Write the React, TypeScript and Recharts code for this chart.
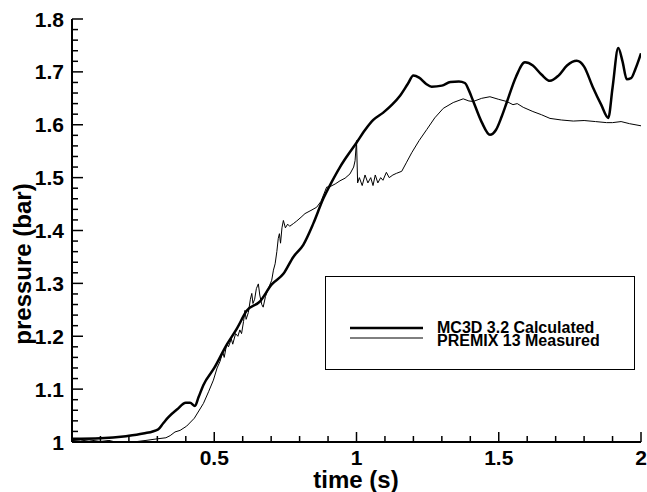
import React from 'react';
import { LineChart, Line, XAxis, YAxis, Legend } from 'recharts';

// MC3D 3.2 calculated pressure (time s, pressure bar)
const calcTime = [
  0, 0.1, 0.19, 0.25, 0.303, 0.32, 0.339, 0.37, 0.4, 0.415, 0.432, 0.445, 0.462, 0.5, 0.544, 0.58,
  0.614, 0.661, 0.702, 0.743, 0.778, 0.813, 0.848, 0.883, 0.913, 0.942, 0.966, 1.0, 1.03, 1.059,
  1.094, 1.125, 1.153, 1.18, 1.2, 1.22, 1.245, 1.264, 1.3, 1.33, 1.36, 1.381, 1.395, 1.41, 1.44,
  1.469, 1.49, 1.51, 1.528, 1.56, 1.592, 1.62, 1.65, 1.68, 1.71, 1.74, 1.774, 1.8, 1.83, 1.86,
  1.885, 1.9, 1.92, 1.935, 1.95, 1.965, 1.98, 2.0,
];
const calcPressure = [
  1.006, 1.007, 1.011, 1.016, 1.024, 1.035, 1.047, 1.062, 1.074, 1.074, 1.068, 1.085, 1.108, 1.14,
  1.184, 1.215, 1.248, 1.266, 1.298, 1.318, 1.35, 1.373, 1.413, 1.46, 1.492, 1.52, 1.54, 1.566,
  1.59, 1.609, 1.623, 1.638, 1.655, 1.677, 1.693, 1.689, 1.677, 1.672, 1.674, 1.681, 1.682, 1.679,
  1.665, 1.645, 1.605, 1.581, 1.59, 1.615, 1.642, 1.69, 1.718, 1.712, 1.695, 1.683, 1.693, 1.712,
  1.721, 1.71, 1.672, 1.638, 1.613, 1.67, 1.745, 1.72, 1.686, 1.688, 1.705, 1.735,
];

// PREMIX 13 measured pressure
const measTime = [
  0, 0.03, 0.06, 0.1, 0.13, 0.16, 0.2, 0.23, 0.26, 0.3, 0.33, 0.345, 0.362, 0.38, 0.403, 0.43,
  0.462, 0.48, 0.497, 0.51, 0.52, 0.53, 0.535, 0.544, 0.55, 0.56, 0.565, 0.575, 0.583, 0.59, 0.596,
  0.603, 0.608, 0.612, 0.62, 0.627, 0.632, 0.636, 0.642, 0.648, 0.655, 0.66, 0.667, 0.672, 0.68,
  0.69, 0.702, 0.708, 0.714, 0.72, 0.725, 0.729, 0.733, 0.738, 0.743, 0.75, 0.758, 0.765, 0.778,
  0.79, 0.805, 0.819, 0.84, 0.86, 0.875, 0.895, 0.907, 0.925, 0.942, 0.96, 0.977, 0.99, 0.995, 1.0,
  1.004, 1.01, 1.02, 1.03, 1.04, 1.05, 1.058, 1.066, 1.075, 1.085, 1.093, 1.105, 1.115, 1.128,
  1.14, 1.159, 1.175, 1.194, 1.22, 1.247, 1.275, 1.305, 1.34, 1.375, 1.395, 1.41, 1.44, 1.469,
  1.5, 1.528, 1.55, 1.565, 1.586, 1.62, 1.65, 1.68, 1.72, 1.762, 1.8, 1.84, 1.879, 1.9, 1.93, 1.96,
  2.0,
];
const measPressure = [
  1.003, 1.002, 1.004, 1.001, 1.003, 0.999, 1.0, 1.001, 1.003, 1.006, 1.008, 1.012, 1.019, 1.022,
  1.03, 1.045, 1.073, 1.095, 1.117, 1.14, 1.152, 1.17, 1.16, 1.186, 1.18, 1.195, 1.185, 1.205, 1.2,
  1.212, 1.205, 1.228, 1.249, 1.232, 1.245, 1.27, 1.281, 1.262, 1.27, 1.29, 1.299, 1.278, 1.26,
  1.255, 1.275, 1.29, 1.306, 1.325, 1.337, 1.36, 1.385, 1.394, 1.376, 1.405, 1.419, 1.405, 1.412,
  1.408, 1.413, 1.418, 1.425, 1.432, 1.438, 1.444, 1.455, 1.482, 1.483, 1.488, 1.494, 1.499, 1.507,
  1.52, 1.532, 1.57, 1.49, 1.5, 1.485, 1.505, 1.49, 1.5, 1.485, 1.505, 1.49, 1.5, 1.495, 1.51, 1.5,
  1.505, 1.508, 1.512, 1.528, 1.547, 1.57, 1.591, 1.613, 1.631, 1.642, 1.649, 1.645, 1.644, 1.65,
  1.653, 1.648, 1.644, 1.638, 1.64, 1.633, 1.625, 1.619, 1.612, 1.609, 1.607, 1.608, 1.606, 1.604,
  1.604, 1.606, 1.602, 1.598,
];

const calcName = 'MC3D 3.2 Calculated';
const measName = 'PREMIX 13 Measured';

// tick positions (minor + major)
const xTicks = Array.from({ length: 21 }, (_, i) => i / 10);
const yTicks = Array.from({ length: 41 }, (_, i) => +(1 + i * 0.02).toFixed(2));

const calcData = calcTime.map((t, i) => ({ t, p: calcPressure[i] }));
const measData = measTime.map((t, i) => ({ t, p: measPressure[i] }));

const FONT = '"Liberation Sans", Arial, sans-serif';

const isStep = (v: number, step: number) => Math.abs(v / step - Math.round(v / step)) < 1e-6;

const XTick = ({ x, y, payload }: any) => {
  const v = payload.value;
  const major = isStep(v, 0.5);
  return (
    <g>
      <line x1={x} x2={x} y1={y} y2={y - (major ? 10 : 6)} stroke="#000" strokeWidth={1.5} />
      {major && v > 0 && (
        <text x={x} y={y + 23} textAnchor="middle" fontFamily={FONT} fontWeight="bold" fontSize={21} fill="#000">
          {String(v)}
        </text>
      )}
    </g>
  );
};

const YTick = ({ x, y, payload }: any) => {
  const v = payload.value;
  const major = isStep(v, 0.1);
  return (
    <g>
      <line x1={x} x2={x + (major ? 11 : 6)} y1={y} y2={y} stroke="#000" strokeWidth={1.5} />
      {major && (
        <text x={x - 8} y={y + 7.5} textAnchor="end" fontFamily={FONT} fontWeight="bold" fontSize={21} fill="#000">
          {v === 1 ? '1' : v.toFixed(1)}
        </text>
      )}
    </g>
  );
};

const YTitle = () => (
  <text x={31} y={264} transform="rotate(-90 31 264)" textAnchor="middle" fontFamily={FONT} fontWeight="bold" fontSize={24} fill="#000">
    pressure (bar)
  </text>
);

const XTitle = () => (
  <text x={356} y={488} textAnchor="middle" fontFamily={FONT} fontWeight="bold" fontSize={24} fill="#000">
    time (s)
  </text>
);

const LegendBox = () => (
  <div style={{ width: 310, height: 94, border: '1px solid #000', boxSizing: 'border-box', background: '#fff' }}>
    <svg width={308} height={92}>
      <line x1={24} x2={97} y1={51} y2={51} stroke="#000" strokeWidth={2.5} />
      <line x1={24} x2={97} y1={61} y2={61} stroke="#000" strokeWidth={1} />
      <text x={111} y={56} fontFamily={FONT} fontWeight="bold" fontSize={16} fill="#000">{calcName}</text>
      <text x={111} y={69} fontFamily={FONT} fontWeight="bold" fontSize={16} fill="#000">{measName}</text>
    </svg>
  </div>
);

export default function App() {
  return (
    <div style={{ position: 'absolute', left: 0, top: 0, fontFamily: FONT, background: '#fff' }}>
      <LineChart width={647} height={492} margin={{ top: 19, right: 6, left: 0, bottom: 0 }}>
        <XAxis
          type="number"
          dataKey="t"
          domain={[0, 2]}
          ticks={xTicks}
          interval={0}
          tickSize={0}
          tickMargin={0}
          tick={<XTick />}
          height={50}
          axisLine={{ stroke: '#000', strokeWidth: 2 }}
          label={{ value: 'time (s)', content: XTitle }}
          allowDataOverflow
        />
        <YAxis
          type="number"
          domain={[1, 1.8]}
          ticks={yTicks}
          interval={0}
          tickSize={0}
          tickMargin={0}
          tick={<YTick />}
          width={72}
          axisLine={{ stroke: '#000', strokeWidth: 2 }}
          label={{ value: 'pressure (bar)', content: YTitle }}
          allowDataOverflow
        />
        <Legend
          layout="horizontal"
          verticalAlign="middle"
          align="center"
          wrapperStyle={{ left: 325, top: 276, width: 310, height: 94 }}
          content={<LegendBox />}
        />
        <Line
          data={measData}
          dataKey="p"
          name={measName}
          type="linear"
          stroke="#000"
          strokeWidth={1}
          dot={false}
          isAnimationActive={false}
        />
        <Line
          data={calcData}
          dataKey="p"
          name={calcName}
          type="monotone"
          stroke="#000"
          strokeWidth={2.5}
          dot={false}
          isAnimationActive={false}
        />
      </LineChart>
    </div>
  );
}
